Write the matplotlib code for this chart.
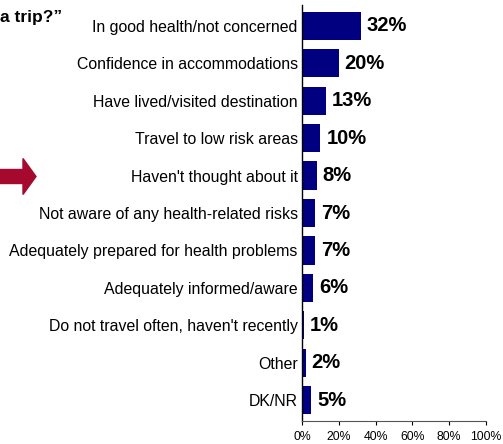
import matplotlib.pyplot as plt
from matplotlib.patches import FancyArrow

plt.rcParams['font.family'] = ['Liberation Sans', 'DejaVu Sans']

# reasons given, top to bottom, with share of respondents (%)
reasons = [
    "In good health/not concerned",
    "Confidence in accommodations",
    "Have lived/visited destination",
    "Travel to low risk areas",
    "Haven't thought about it",
    "Not aware of any health-related risks",
    "Adequately prepared for health problems",
    "Adequately informed/aware",
    "Do not travel often, haven't recently",
    "Other",
    "DK/NR",
]
shares = [32, 20, 13, 10, 8, 7, 7, 6, 1, 2, 5]
x_ticks = [0, 20, 40, 60, 80, 100]

bar_color = "#000080"
arrow_color = "#A50A2E"

fig = plt.figure(figsize=(5.03, 4.44), dpi=100)
ax = fig.add_axes([302 / 503, 1 - 421 / 444, 184 / 503, 416 / 444])

ypos = list(range(len(reasons)))
ax.barh(ypos, shares, height=0.75, color=bar_color)
for y, v in zip(ypos, shares):
    ax.text(v + 3.2, y, f"{v}%", va="center", ha="left",
            fontsize=14.5, fontweight="bold", color="black")

ax.set_xlim(0, 100)
ax.set_ylim(len(reasons) - 0.45, -0.55)
ax.set_yticks(ypos)
ax.set_yticklabels(reasons, fontsize=11.4)
ax.tick_params(axis="y", length=0, pad=3)
ax.set_xticks(x_ticks)
ax.set_xticklabels([f"{t}%" for t in x_ticks], fontsize=8.8)
ax.tick_params(axis="x", direction="out", length=3, width=0.8, pad=4)

for side in ("top", "right"):
    ax.spines[side].set_visible(False)
ax.spines["left"].set_linewidth(1.0)
ax.spines["bottom"].set_linewidth(0.8)
ax.spines["bottom"].set_color("#555555")

# tail end of the question heading
fig.text(0 / 503, 1 - 22 / 444, "a trip?\u201d", fontsize=12.5, fontweight="bold",
         ha="left", va="baseline")

# pointer arrow
fig.patches.append(FancyArrow(0 / 503, 1 - 176.5 / 444, 36 / 503, 0,
                              width=14 / 444, head_width=36 / 444,
                              head_length=13 / 503, length_includes_head=True,
                              color=arrow_color, transform=fig.transFigure,
                              figure=fig))

fig.savefig("out.png", dpi=100)
